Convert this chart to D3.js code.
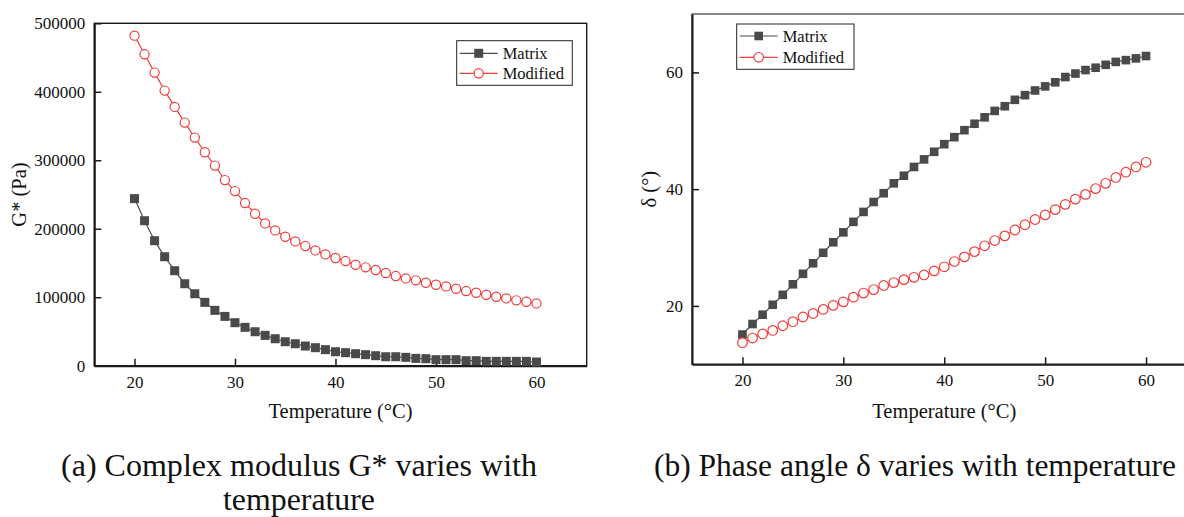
<!DOCTYPE html>
<html>
<head>
<meta charset="utf-8">
<script src="https://cdn.jsdelivr.net/npm/d3@7"></script>
<style>
  html, body { margin: 0; padding: 0; background: #fff; overflow: hidden; }
  svg { display: block; }
  text { font-family: "Liberation Serif", "Times New Roman", Times, serif; fill: #111; }
</style>
</head>
<body>
<svg id="chart" width="1184" height="517"></svg>
<script>
// ---------- data ----------
const temperatures = [20,21,22,23,24,25,26,27,28,29,30,31,32,33,34,35,36,37,38,39,40,
                      41,42,43,44,45,46,47,48,49,50,51,52,53,54,55,56,57,58,59,60];

const gMatrix = [244000,211700,182500,159100,138700,119700,105100,92500,80800,72000,62800,
                 56000,49600,44300,39400,35000,32100,28700,26300,23400,20400,19000,17500,
                 16100,14600,13100,13100,12200,10700,10200,8800,8800,8800,7300,7300,6300,
                 6300,6300,6300,6300,5400];
const gModified = [482000,454700,428000,401700,377900,355000,333100,311700,292200,271000,
                   255000,237500,221900,207800,197600,188300,181500,174700,168400,162500,
                   157200,152800,147400,143600,139700,135300,130900,127500,124600,121200,
                   118200,115800,112400,109000,106600,103600,100700,98300,95400,93400,91000];

const dMatrix = [15.1,16.9,18.5,20.2,21.9,23.7,25.5,27.3,29.1,30.9,32.6,34.4,36.1,37.8,
                 39.3,41.0,42.3,43.8,45.1,46.4,47.7,48.9,50.1,51.2,52.3,53.4,54.2,55.3,
                 56.1,56.9,57.6,58.3,59.2,59.8,60.4,60.8,61.3,61.8,62.1,62.4,62.8];
const dModified = [13.7,14.5,15.2,15.8,16.6,17.3,18.1,18.7,19.4,20.1,20.7,21.5,22.2,22.8,
                   23.5,24.0,24.5,24.9,25.3,26.0,26.7,27.6,28.4,29.3,30.3,31.2,32.0,33.0,
                   33.9,34.8,35.6,36.5,37.4,38.3,39.1,40.1,41.0,42.0,42.9,43.8,44.6];

const xTicks = [20, 30, 40, 50, 60];
const gTicks = [0, 100000, 200000, 300000, 400000, 500000];
const dTicks = [20, 40, 60];
const seriesNames = ["Matrix", "Modified"];
const xTitle = "Temperature (°C)";
const gTitle = "G* (Pa)";
const dTitle = "δ (°)";
const captionA = ["(a) Complex modulus G* varies with", "temperature"];
const captionB = ["(b) Phase angle δ varies with temperature"];

// ---------- style ----------
const matrixColor = "#4a4a4a";
const modifiedColor = "#f23c3c";
const axisColor = "#1a1a1a";

const svg = d3.select("#chart");

function drawPanel(o) {
  const x = d3.scaleLinear().domain(o.xDomain).range([o.left, o.right]);
  const y = d3.scaleLinear().domain(o.yDomain).range([o.bottom, o.top]);
  const g = svg.append("g");

  // frame
  g.append("rect")
    .attr("x", o.left).attr("y", o.top)
    .attr("width", o.right - o.left).attr("height", o.bottom - o.top)
    .attr("fill", "none").attr("stroke", o.frameColor).attr("stroke-width", 1.4);

  // axes
  const xa = g.append("g").attr("transform", `translate(0,${o.bottom})`)
    .call(d3.axisBottom(x).tickValues(xTicks).tickSizeInner(-7).tickSizeOuter(0).tickPadding(10).tickFormat(d3.format("d")));
  const ya = g.append("g").attr("transform", `translate(${o.left},0)`)
    .call(d3.axisLeft(y).tickValues(o.yTicks).tickSizeInner(-7).tickSizeOuter(0).tickPadding(9).tickFormat(d3.format("d")));
  [xa, ya].forEach(a => {
    a.attr("font-family", null);
    a.select(".domain").attr("stroke", axisColor).attr("stroke-width", 2);
    a.selectAll(".tick line").attr("stroke", axisColor).attr("stroke-width", 1.5);
    a.selectAll(".tick text").attr("font-size", 17).attr("fill", "#111");
  });

  // titles
  g.append("text").attr("x", (o.left + o.right) / 2).attr("y", o.xTitleY)
    .attr("text-anchor", "middle").attr("font-size", 20.5).text(xTitle);
  g.append("text")
    .attr("transform", `translate(${o.yTitleX},${(o.top + o.bottom) / 2}) rotate(-90)`)
    .attr("text-anchor", "middle").attr("font-size", 20.5).text(o.yTitle);

  // series
  const mk = (vals) => temperatures.map((t, i) => [t, vals[i]]);
  const line = d3.line().x(d => x(d[0])).y(d => y(d[1]));
  const sM = mk(o.matrix), sD = mk(o.modified);

  g.append("path").attr("d", line(sM)).attr("fill", "none").attr("stroke", matrixColor).attr("stroke-width", 1.2);
  g.selectAll(".sq").data(sM).enter().append("rect")
    .attr("x", d => x(d[0]) - o.sq / 2).attr("y", d => y(d[1]) - o.sq / 2)
    .attr("width", o.sq).attr("height", o.sq).attr("fill", matrixColor);

  g.append("path").attr("d", line(sD)).attr("fill", "none").attr("stroke", modifiedColor).attr("stroke-width", 1.2);
  g.selectAll(".ci").data(sD).enter().append("circle")
    .attr("cx", d => x(d[0])).attr("cy", d => y(d[1])).attr("r", o.r)
    .attr("fill", "#fff").attr("stroke", modifiedColor).attr("stroke-width", 1.2);

  // legend
  const L = o.legend;
  g.append("rect").attr("x", L.x).attr("y", L.y).attr("width", L.w).attr("height", L.h)
    .attr("fill", "#fff").attr("stroke", "#222").attr("stroke-width", 1);
  const rows = [
    { name: seriesNames[0], color: matrixColor, kind: "sq", cy: L.y + L.row1 },
    { name: seriesNames[1], color: modifiedColor, kind: "ci", cy: L.y + L.row2 }
  ];
  rows.forEach(r => {
    g.append("line").attr("x1", L.x + 3).attr("x2", L.x + 3 + L.lineLen)
      .attr("y1", r.cy).attr("y2", r.cy).attr("stroke", r.color).attr("stroke-width", 1.2);
    const cx = L.x + 3 + L.lineLen / 2;
    if (r.kind === "sq") {
      g.append("rect").attr("x", cx - o.sq / 2).attr("y", r.cy - o.sq / 2)
        .attr("width", o.sq).attr("height", o.sq).attr("fill", r.color);
    } else {
      g.append("circle").attr("cx", cx).attr("cy", r.cy).attr("r", o.r)
        .attr("fill", "#fff").attr("stroke", r.color).attr("stroke-width", 1.2);
    }
    g.append("text").attr("x", L.x + 3 + L.lineLen + 5).attr("y", r.cy).attr("dy", "0.35em")
      .attr("font-size", 16.5).text(r.name);
  });
}

drawPanel({
  left: 94.3, right: 586.7, top: 23.3, bottom: 365.7,
  xDomain: [16, 65], yDomain: [0, 500000], yTicks: gTicks,
  matrix: gMatrix, modified: gModified, frameColor: axisColor,
  yTitle: gTitle, yTitleX: 26, xTitleY: 418,
  sq: 9, r: 4.6,
  legend: { x: 456.7, y: 40.7, w: 115.6, h: 44.6, row1: 12.6, row2: 32.6, lineLen: 38 }
});

drawPanel({
  left: 692, right: 1196.5, top: 14, bottom: 364.3,
  xDomain: [15, 65], yDomain: [10, 70], yTicks: dTicks,
  matrix: dMatrix, modified: dModified, frameColor: "#555",
  yTitle: dTitle, yTitleX: 656, xTitleY: 418,
  sq: 8.6, r: 4.8,
  legend: { x: 736.7, y: 24, w: 117.3, h: 45.3, row1: 12, row2: 33.3, lineLen: 38 }
});

// captions
function caption(lines, cx, y0, lh, widths) {
  lines.forEach((t, i) => {
    svg.append("text").attr("x", cx).attr("y", y0 + i * lh)
      .attr("text-anchor", "middle").attr("font-size", 32)
      .attr("textLength", widths[i]).attr("lengthAdjust", "spacingAndGlyphs")
      .text(t);
  });
}
caption(captionA, 299, 476, 34, [476, 152]);
caption(captionB, 915, 476, 34, [522]);
</script>
</body>
</html>
